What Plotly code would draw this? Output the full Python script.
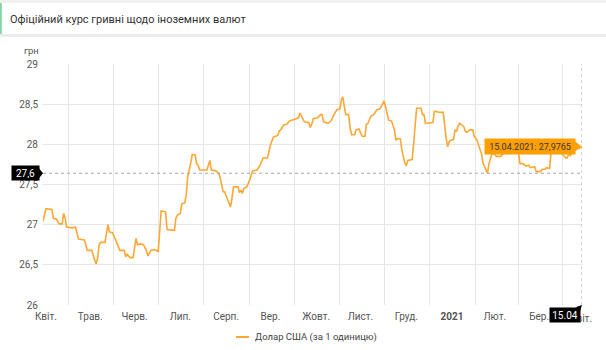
import plotly.graph_objects as go

# ---------------- data ----------------
dates = [
    "2020-04-15", "2020-04-17", "2020-04-21", "2020-04-22", "2020-04-24", "2020-04-26", "2020-04-28", "2020-04-29", "2020-04-30",
    "2020-05-01", "2020-05-05", "2020-05-07", "2020-05-09", "2020-05-13", "2020-05-14", "2020-05-15", "2020-05-18", "2020-05-19",
    "2020-05-20", "2020-05-21", "2020-05-22", "2020-05-23", "2020-05-24", "2020-05-27", "2020-05-28", "2020-05-29", "2020-05-30",
    "2020-06-01", "2020-06-03", "2020-06-05", "2020-06-06", "2020-06-09", "2020-06-10", "2020-06-11", "2020-06-13", "2020-06-15",
    "2020-06-16", "2020-06-17", "2020-06-18", "2020-06-20", "2020-06-22", "2020-06-24", "2020-06-25", "2020-06-27", "2020-06-29",
    "2020-07-01", "2020-07-02", "2020-07-03", "2020-07-04", "2020-07-07", "2020-07-08", "2020-07-13", "2020-07-14", "2020-07-15",
    "2020-07-17", "2020-07-18", "2020-07-20", "2020-07-21", "2020-07-22", "2020-07-24", "2020-07-25", "2020-07-27", "2020-07-28",
    "2020-07-29", "2020-07-30",
    "2020-08-04", "2020-08-05", "2020-08-06", "2020-08-07", "2020-08-10", "2020-08-12", "2020-08-13", "2020-08-15", "2020-08-16",
    "2020-08-17", "2020-08-18", "2020-08-20", "2020-08-21", "2020-08-22", "2020-08-25", "2020-08-26", "2020-08-27", "2020-08-28",
    "2020-08-29", "2020-08-31",
    "2020-09-02", "2020-09-04", "2020-09-07", "2020-09-09", "2020-09-11", "2020-09-14", "2020-09-16", "2020-09-18", "2020-09-21",
    "2020-09-22", "2020-09-23", "2020-09-25", "2020-09-27", "2020-09-29",
    "2020-10-02", "2020-10-04", "2020-10-05", "2020-10-06", "2020-10-08", "2020-10-09", "2020-10-12", "2020-10-13", "2020-10-14",
    "2020-10-15", "2020-10-18", "2020-10-20", "2020-10-21", "2020-10-22", "2020-10-25", "2020-10-27", "2020-10-29", "2020-10-31",
    "2020-11-02", "2020-11-03", "2020-11-04", "2020-11-05", "2020-11-06", "2020-11-08", "2020-11-09", "2020-11-10", "2020-11-12",
    "2020-11-13", "2020-11-15", "2020-11-17", "2020-11-19", "2020-11-20", "2020-11-21", "2020-11-23", "2020-11-25", "2020-11-27",
    "2020-11-29", "2020-11-30",
    "2020-12-02", "2020-12-04", "2020-12-05", "2020-12-07", "2020-12-09", "2020-12-10", "2020-12-11", "2020-12-13", "2020-12-14",
    "2020-12-16", "2020-12-17", "2020-12-18", "2020-12-21", "2020-12-22", "2020-12-23", "2020-12-24", "2020-12-27", "2020-12-28",
    "2020-12-29", "2020-12-30",
    "2021-01-04", "2021-01-05", "2021-01-06", "2021-01-08", "2021-01-11", "2021-01-12", "2021-01-13", "2021-01-14", "2021-01-15",
    "2021-01-16", "2021-01-18", "2021-01-19", "2021-01-20", "2021-01-21", "2021-01-22", "2021-01-23", "2021-01-25", "2021-01-26",
    "2021-01-27", "2021-01-29", "2021-01-31",
    "2021-02-01", "2021-02-03", "2021-02-04", "2021-02-06", "2021-02-07", "2021-02-09", "2021-02-10", "2021-02-11", "2021-02-12",
    "2021-02-13", "2021-02-15", "2021-02-16", "2021-02-19", "2021-02-21", "2021-02-23", "2021-02-26",
    "2021-03-01", "2021-03-03", "2021-03-04", "2021-03-06", "2021-03-08", "2021-03-10", "2021-03-11", "2021-03-14", "2021-03-15",
    "2021-03-18", "2021-03-19", "2021-03-21", "2021-03-22", "2021-03-24", "2021-03-25", "2021-03-28", "2021-03-31",
    "2021-04-01", "2021-04-04", "2021-04-05", "2021-04-06", "2021-04-07", "2021-04-10", "2021-04-13", "2021-04-15",
]

usd_rate = [
    27.04, 27.20, 27.19, 27.08, 27.07, 27.01, 27.01, 27.14, 27.08,
    26.97, 26.96, 26.97, 26.82, 26.81, 26.75, 26.68, 26.68, 26.61,
    26.56, 26.51, 26.59, 26.75, 26.78, 26.78, 26.89, 27.00, 26.91,
    26.90, 26.82, 26.73, 26.68, 26.68, 26.60, 26.63, 26.59, 26.59,
    26.73, 26.83, 26.75, 26.76, 26.75, 26.68, 26.61, 26.68, 26.69,
    26.68, 26.66, 26.97, 27.17, 27.16, 26.94, 26.93, 27.08, 27.12,
    27.14, 27.26, 27.27, 27.37, 27.60, 27.76, 27.87, 27.87, 27.76,
    27.74, 27.68,
    27.68, 27.74, 27.80, 27.68, 27.67, 27.64, 27.58, 27.41, 27.41,
    27.36, 27.31, 27.22, 27.33, 27.47, 27.47, 27.40, 27.43, 27.39,
    27.45, 27.47,
    27.56, 27.67, 27.68, 27.74, 27.83, 27.83, 27.99, 28.09, 28.11,
    28.17, 28.18, 28.24, 28.25, 28.29,
    28.31, 28.33, 28.33, 28.39, 28.32, 28.28, 28.27, 28.21, 28.25,
    28.32, 28.33, 28.37, 28.37, 28.28, 28.26, 28.29, 28.37, 28.43,
    28.44, 28.55, 28.59, 28.49, 28.37, 28.37, 28.20, 28.12, 28.12,
    28.18, 28.19, 28.10, 28.10, 28.25, 28.26, 28.35, 28.37, 28.43,
    28.44, 28.47,
    28.54, 28.39, 28.30, 28.29, 28.18, 28.05, 28.07, 28.07, 27.93,
    27.77, 27.73, 27.80, 27.81, 28.01, 28.30, 28.45, 28.45, 28.37,
    28.37, 28.26,
    28.27, 28.41, 28.41, 28.40, 28.40, 28.22, 28.08, 27.97, 28.03,
    28.05, 28.06, 28.18, 28.16, 28.22, 28.26, 28.25, 28.22, 28.16,
    28.15, 28.18, 28.18,
    28.10, 28.05, 27.99, 27.88, 27.76, 27.67, 27.64, 27.76, 27.84,
    27.88, 27.88, 27.85, 27.85, 27.89, 27.90, 27.95,
    27.95, 27.90, 27.76, 27.76, 27.73, 27.74, 27.71, 27.72, 27.66,
    27.66, 27.69, 27.69, 27.71, 27.70, 27.89, 27.93, 27.92,
    27.90, 27.83, 27.83, 27.89, 27.86, 27.93, 27.95, 27.9765,
]

month_label_dates = ["2020-04-17", "2020-05-17", "2020-06-16", "2020-07-17", "2020-08-17", "2020-09-16",
                     "2020-10-17", "2020-11-16", "2020-12-17", "2021-01-17", "2021-02-15", "2021-03-17"]
month_labels = ["Квіт.", "Трав.", "Черв.", "Лип.", "Серп.", "Вер.",
                "Жовт.", "Лист.", "Груд.", "<b>2021</b>", "Лют.", "Бер."]
month_starts = ["2020-05-02", "2020-06-02", "2020-07-02", "2020-08-02", "2020-09-02", "2020-10-02",
                "2020-11-02", "2020-12-02", "2021-01-02", "2021-02-02", "2021-03-03", "2021-04-02"]
last_month_label = "Квіт."

y_ticks = [26, 26.5, 27, 27.5, 28, 28.5, 29]
y_ticktext = ["26", "26,5", "27", "27,5", "28", "28,5", "29"]

x_start, x_end = "2020-04-15", "2021-04-15"
cursor_value = 27.64
cursor_label = "27,6"
cursor_date_label = "15.04"
tooltip_text = "15.04.2021: 27,9765"

title_text = "Офіційний курс гривні щодо іноземних валют"
unit_text = "грн"
series_name = "Долар США (за 1 одиницю)"

# ---------------- style ----------------
W, H = 606, 350
ML, MR, MT, MB = 43, 24, 64, 45
PW, PH = W - ML - MR, H - MT - MB
LINE_COLOR = "#ffa733"
TIP_COLOR = "#ffa000"
GRID = "#e6e6e6"
FONT = "Roboto"


def px_x(px):
    return (px - ML) / PW


def px_y(py):
    return (H - MB - py) / PH


fig = go.Figure()
fig.add_trace(go.Scatter(
    x=dates, y=usd_rate, mode="lines", name=series_name,
    line=dict(color=LINE_COLOR, width=1.6), hoverinfo="skip", showlegend=False,
))

shapes = [
    # page header background
    dict(type="rect", xref="paper", yref="paper", x0=px_x(0), x1=px_x(W), y0=px_y(3), y1=px_y(0),
         fillcolor="#f1f1f1", line_width=0, layer="below"),
    dict(type="rect", xref="paper", yref="paper", x0=px_x(0), x1=px_x(W), y0=px_y(37), y1=px_y(34),
         fillcolor="#ececec", line_width=0, layer="below"),
    dict(type="rect", xref="paper", yref="paper", x0=px_x(0), x1=px_x(1.8), y0=px_y(34), y1=px_y(3),
         fillcolor="#7ed6a0", line_width=0, layer="above"),
    # cursor lines
    dict(type="line", xref="paper", yref="y", x0=0, x1=1, y0=cursor_value, y1=cursor_value,
         line=dict(color="#a8a8a8", width=1, dash="dot")),
    dict(type="line", xref="x", yref="y", x0=x_end, x1=x_end, y0=26, y1=29,
         line=dict(color="#a8a8a8", width=1, dash="dot")),
    # pointer triangles
    dict(type="path", xref="paper", yref="y", xsizemode="pixel", ysizemode="pixel",
         xanchor=0, yanchor=cursor_value, path="M -4,-5 L 0,0 L -4,5 Z",
         fillcolor="#000000", line_width=0),
    dict(type="path", xref="x", yref="y", xsizemode="pixel", ysizemode="pixel",
         xanchor=x_end, yanchor=usd_rate[-1], path="M -7,-5 L -1,0 L -7,5 Z",
         fillcolor=TIP_COLOR, line_width=0),
    dict(type="path", xref="x", yref="paper", xsizemode="pixel", ysizemode="pixel",
         xanchor=x_end, yanchor=0, path="M -6,-2 L 0,0 L -2,-6 Z",
         fillcolor="#000000", line_width=0),
    # legend swatch
    dict(type="line", xref="paper", yref="paper", x0=px_x(236), x1=px_x(249), y0=px_y(337), y1=px_y(337),
         line=dict(color=LINE_COLOR, width=2)),
]

annotations = [
    dict(text=title_text, xref="paper", yref="paper", x=px_x(8), y=px_y(19), xanchor="left",
         yanchor="middle", showarrow=False, font=dict(family=FONT, size=11, color="#333333")),
    dict(text=unit_text, xref="paper", yref="paper", x=px_x(22), y=px_y(51), xanchor="left",
         yanchor="middle", showarrow=False, font=dict(family=FONT, size=9.5, color="#555555")),
    dict(text=series_name, xref="paper", yref="paper", x=px_x(253), y=px_y(337), xanchor="left",
         yanchor="middle", showarrow=False, font=dict(family=FONT, size=9.5, color="#444444")),
    dict(text=cursor_label, xref="paper", yref="y", x=0, y=cursor_value, xanchor="right",
         yanchor="middle", xshift=-3, showarrow=False, bgcolor="#000000", borderpad=2,
         width=23, height=10, font=dict(family=FONT, size=10, color="#ffffff")),
    dict(text=last_month_label, xref="x", yref="paper", x=x_end, y=0, xanchor="center",
         yanchor="top", xshift=-1, yshift=-6, showarrow=False,
         font=dict(family=FONT, size=10, color="#555555")),
    dict(text=cursor_date_label, xref="x", yref="paper", x=x_end, y=0, xanchor="right",
         yanchor="top", xshift=-1, yshift=-2, showarrow=False, bgcolor="#000000", borderpad=2,
         width=26, height=10, font=dict(family=FONT, size=10, color="#ffffff")),
    dict(text=tooltip_text, xref="x", yref="y", x=x_end, y=usd_rate[-1], xanchor="right",
         yanchor="middle", xshift=-6, showarrow=False, bgcolor=TIP_COLOR, borderpad=2,
         width=86, height=11, font=dict(family=FONT, size=9, color="#333333")),
]

fig.update_layout(
    width=W, height=H,
    margin=dict(l=ML, r=MR, t=MT, b=MB, pad=0),
    paper_bgcolor="#ffffff", plot_bgcolor="#ffffff",
    font=dict(family=FONT, size=10, color="#555555"),
    showlegend=False,
    xaxis=dict(
        type="date", range=[x_start, x_end], automargin=False,
        tickmode="array", tickvals=month_label_dates, ticktext=month_labels,
        showgrid=False, zeroline=False, showline=False, ticks="", ticklabelstandoff=4,
        tickfont=dict(family=FONT, size=10, color="#555555"),
        minor=dict(tickmode="array", tickvals=month_starts, showgrid=True, gridcolor=GRID,
                   gridwidth=1, ticks=""),
        fixedrange=True,
    ),
    yaxis=dict(
        range=[26, 29], tickmode="array", tickvals=y_ticks, ticktext=y_ticktext, automargin=False,
        showgrid=True, gridcolor=GRID, gridwidth=1, zeroline=False, showline=False, ticks="",
        tickfont=dict(family=FONT, size=10, color="#555555"), ticklabelstandoff=4,
        fixedrange=True,
    ),
    shapes=shapes,
    annotations=annotations,
)

fig.write_html("out.html")
